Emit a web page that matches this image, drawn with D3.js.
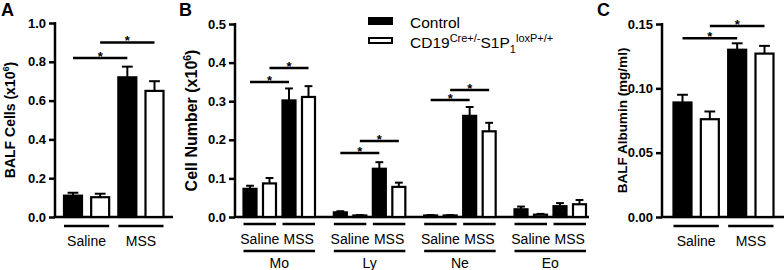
<!DOCTYPE html>
<html>
<head>
<meta charset="utf-8">
<script src="https://cdn.jsdelivr.net/npm/d3@7"></script>
<style>
  body { margin: 0; background: #fff; }
  svg { display: block; font-family: "Liberation Sans", Arial, sans-serif; }
</style>
</head>
<body>
<div id="chart"></div>
<script>
const W = 784, H = 270;

// Data
const conditions = ['Saline', 'MSS'];
const genotypes = ['Control', 'CD19Cre+/-S1P1loxP+/+'];

// Panel A: BALF cells (x10^6), order: Saline ctrl, Saline KO, MSS ctrl, MSS KO
const balfCells = [0.110, 0.102, 0.720, 0.650];
const balfCellsErr = [0.015, 0.018, 0.055, 0.050];
const balfCellsSig = [[0, 2, 0.82], [1, 3, 0.90]];
const ticksA = [0.0, 0.2, 0.4, 0.6, 0.8, 1.0];

// Panel B: cell number (x10^6) by cell type
const cellTypes = ['Mo', 'Ly', 'Ne', 'Eo'];
const cellNumber = {
  Mo: [0.073, 0.087, 0.302, 0.311],
  Ly: [0.012, 0.004, 0.125, 0.078],
  Ne: [0.004, 0.004, 0.262, 0.222],
  Eo: [0.020, 0.006, 0.028, 0.033]
};
const cellNumberErr = {
  Mo: [0.008, 0.014, 0.031, 0.028],
  Ly: [0.003, 0.001, 0.017, 0.011],
  Ne: [0.001, 0.001, 0.023, 0.022],
  Eo: [0.007, 0.002, 0.008, 0.011]
};
const cellNumberSig = {
  Mo: [[0, 2, 0.350], [1, 3, 0.386]],
  Ly: [[0, 2, 0.166], [1, 3, 0.197]],
  Ne: [[0, 2, 0.303], [1, 3, 0.329]],
  Eo: []
};
const ticksB = [0.0, 0.1, 0.2, 0.3, 0.4, 0.5];

// Panel C: BALF albumin (mg/ml)
const albumin = [0.089, 0.076, 0.130, 0.127];
const albuminErr = [0.006, 0.006, 0.005, 0.006];
const albuminSig = [[0, 2, 0.139], [1, 3, 0.1484]];
const ticksC = [0.00, 0.05, 0.10, 0.15];

const FONT = '"Liberation Sans", Arial, sans-serif';

const svg = d3.select('#chart').append('svg')
  .attr('width', W).attr('height', H);

const y0 = 217;

function drawAxis(x, y, ticks, fmt, xEnd, label, labelX, labelSize, letter, letterX) {
  const g = svg.append('g').attr('transform', `translate(${x},0)`);
  g.call(d3.axisLeft(y).tickValues(ticks).tickFormat(d3.format(fmt)).tickSize(6).tickPadding(3));
  g.attr('font-family', FONT);
  g.select('.domain').attr('stroke-width', 2.5).attr('d', `M0,${y.range()[1] - 1}V${y0}`);
  g.selectAll('.tick line').attr('stroke-width', 2.5);
  g.selectAll('.tick text')
    .attr('font-size', 13).attr('font-weight', 'bold').attr('fill', '#000');
  svg.append('line')
    .attr('x1', x - 1).attr('x2', xEnd)
    .attr('y1', y0).attr('y2', y0)
    .attr('stroke', '#000').attr('stroke-width', 2.5);

  const t = svg.append('text')
    .attr('transform', `translate(${labelX},${(y0 + y.range()[1]) / 2}) rotate(-90)`)
    .attr('text-anchor', 'middle')
    .attr('font-weight', 'bold').attr('font-size', labelSize);
  label(t, labelSize);

  svg.append('text').attr('x', letterX).attr('y', 16)
    .attr('font-weight', 'bold').attr('font-size', 18).text(letter);
}

function drawBars(xs, y, vals, errs, bw) {
  vals.forEach((v, i) => {
    const cx = xs(i);
    const filled = i % 2 === 0;
    svg.append('rect')
      .attr('x', cx - bw / 2).attr('width', bw)
      .attr('y', y(v)).attr('height', y(0) - y(v))
      .attr('fill', filled ? '#000' : '#fff')
      .attr('stroke', '#000').attr('stroke-width', 2.2);
    const top = y(v + errs[i]);
    svg.append('line')
      .attr('x1', cx).attr('x2', cx)
      .attr('y1', y(v)).attr('y2', top)
      .attr('stroke', '#000').attr('stroke-width', 2);
    svg.append('line')
      .attr('x1', cx - bw * 0.3).attr('x2', cx + bw * 0.3)
      .attr('y1', top).attr('y2', top)
      .attr('stroke', '#000').attr('stroke-width', 2);
  });
}

function drawSig(xs, y, sig) {
  sig.forEach(([a, b, v]) => {
    svg.append('line')
      .attr('x1', xs(a)).attr('x2', xs(b))
      .attr('y1', y(v)).attr('y2', y(v))
      .attr('stroke', '#000').attr('stroke-width', 2.5);
    svg.append('text')
      .attr('x', (xs(a) + xs(b)) / 2).attr('y', y(v) + 3)
      .attr('text-anchor', 'middle').attr('font-size', 13).attr('font-weight', 'bold')
      .text('*');
  });
}

function drawCondLabels(xs, bw, yLine) {
  conditions.forEach((c, k) => {
    const a = xs(k * 2) - bw / 2, b = xs(k * 2 + 1) + bw / 2;
    svg.append('line')
      .attr('x1', a).attr('x2', b).attr('y1', yLine).attr('y2', yLine)
      .attr('stroke', '#000').attr('stroke-width', 2.5);
    svg.append('text')
      .attr('x', (a + b) / 2).attr('y', yLine + 20)
      .attr('text-anchor', 'middle').attr('font-size', 14)
      .text(c);
  });
}

function sixLabel(main) {
  return (t, size) => {
    t.append('tspan').text(main + ' (x10');
    t.append('tspan').attr('font-size', size * 0.65).attr('dy', -size * 0.4).text('6');
    t.append('tspan').attr('dy', size * 0.4).text(')');
  };
}

// ---- Panel A ----
const yA = d3.scaleLinear().domain([0, 1]).range([y0, 23]);
const xA = d3.scalePoint().domain(d3.range(4)).range([73, 154.5]);
drawAxis(55, yA, ticksA, '.1f', 173, sixLabel('BALF Cells'), 15, 14, 'A', 1);
drawBars(xA, yA, balfCells, balfCellsErr, 18);
drawSig(xA, yA, balfCellsSig);
drawCondLabels(xA, 18, 226);

// ---- Panel B ----
const yB = d3.scaleLinear().domain([0, 0.5]).range([y0, 24]);
const xGroup = d3.scalePoint().domain(cellTypes).range([250, 521]);
const xInner = d3.scalePoint().domain(d3.range(4)).range([0, 58.5]);
drawAxis(235, yB, ticksB, '.1f', 589, sixLabel('Cell Number'), 197, 16, 'B', 179);
cellTypes.forEach(ct => {
  const xs = i => xGroup(ct) + xInner(i);
  drawBars(xs, yB, cellNumber[ct], cellNumberErr[ct], 13);
  drawSig(xs, yB, cellNumberSig[ct]);
  drawCondLabels(xs, 13, 224);
  svg.append('line')
    .attr('x1', xs(0) - 6.5).attr('x2', xs(3) + 6.5)
    .attr('y1', 251).attr('y2', 251)
    .attr('stroke', '#000').attr('stroke-width', 2.5);
  svg.append('text')
    .attr('x', (xs(0) + xs(3)) / 2).attr('y', 268)
    .attr('text-anchor', 'middle').attr('font-size', 14)
    .text(ct);
});

// Legend
const legend = svg.append('g');
genotypes.forEach((gname, i) => {
  legend.append('rect')
    .attr('x', 369).attr('y', 18 + i * 20).attr('width', 23).attr('height', i ? 5 : 6)
    .attr('fill', i ? '#fff' : '#000')
    .attr('stroke', '#000').attr('stroke-width', 2);
});
legend.append('text').attr('x', 410).attr('y', 28).attr('font-size', 15.5).text(genotypes[0]);
const lt = legend.append('text').attr('x', 410).attr('y', 48).attr('font-size', 15.5);
lt.append('tspan').text('CD19');
lt.append('tspan').attr('font-size', 11).attr('dy', -6).text('Cre+/-');
lt.append('tspan').attr('dy', 6).text('S1P');
lt.append('tspan').attr('font-size', 11).attr('dy', 5).text('1');
lt.append('tspan').attr('font-size', 11).attr('dy', -11).text('loxP+/+');

// ---- Panel C ----
const yC = d3.scaleLinear().domain([0, 0.15]).range([y0, 24]);
const xC = d3.scalePoint().domain(d3.range(4)).range([682.5, 764.5]);
drawAxis(662, yC, ticksC, '.2f', 784, (t) => t.text('BALF Albumin (mg/ml)'), 627, 13.5, 'C', 597);
drawBars(xC, yC, albumin, albuminErr, 18);
drawSig(xC, yC, albuminSig);
drawCondLabels(xC, 18, 226);
</script>
</body>
</html>
